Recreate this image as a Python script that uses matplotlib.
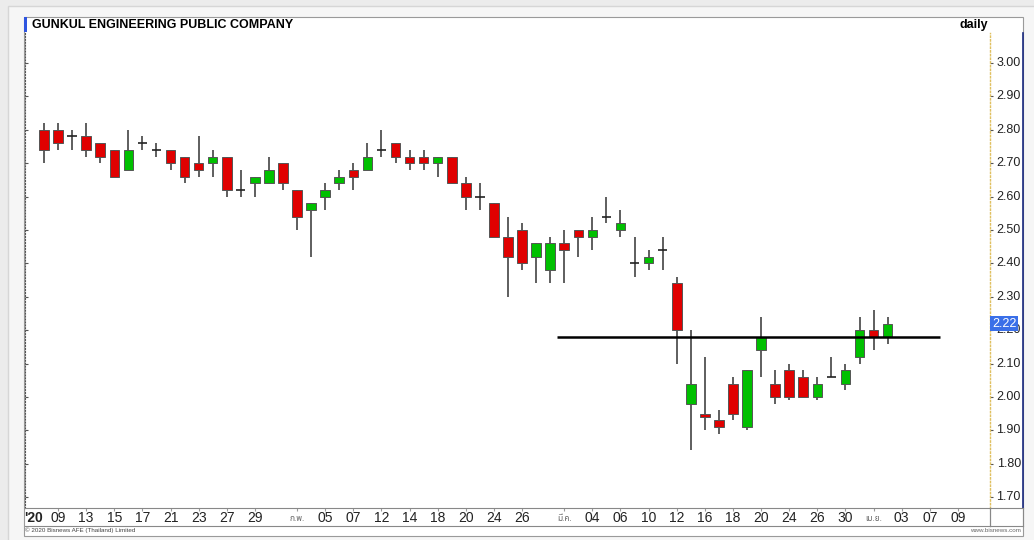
import matplotlib
matplotlib.use("Agg")
import matplotlib.pyplot as plt
from matplotlib.patches import Rectangle
import matplotlib.transforms as mtransforms

W, H = 1034, 540

# OHLC, one row per trading day (8 Jan 2020 .. 2 Apr 2020)
opens = [2.80, 2.80, 2.78, 2.78, 2.76, 2.74, 2.68, 2.76, 2.74, 2.74,
         2.72, 2.70, 2.70, 2.72, 2.62, 2.64, 2.64, 2.70, 2.62, 2.56,
         2.60, 2.64, 2.68, 2.68, 2.74, 2.76, 2.72, 2.72, 2.70, 2.72,
         2.64, 2.60, 2.58, 2.48, 2.50, 2.42, 2.38, 2.46, 2.50, 2.48,
         2.54, 2.50, 2.40, 2.40, 2.44, 2.34, 1.98, 1.95, 1.93, 2.04,
         1.91, 2.14, 2.04, 2.08, 2.06, 2.00, 2.06, 2.04, 2.12, 2.20,
         2.18]
highs = [2.82, 2.82, 2.80, 2.82, 2.76, 2.74, 2.80, 2.78, 2.76, 2.74,
         2.72, 2.78, 2.74, 2.72, 2.68, 2.66, 2.72, 2.70, 2.62, 2.58,
         2.64, 2.68, 2.70, 2.76, 2.80, 2.76, 2.74, 2.74, 2.72, 2.72,
         2.66, 2.64, 2.58, 2.54, 2.52, 2.46, 2.48, 2.50, 2.50, 2.54,
         2.60, 2.56, 2.48, 2.44, 2.48, 2.36, 2.20, 2.12, 1.96, 2.06,
         2.08, 2.24, 2.08, 2.10, 2.08, 2.06, 2.12, 2.10, 2.24, 2.26,
         2.24]
lows = [2.70, 2.74, 2.74, 2.72, 2.70, 2.66, 2.68, 2.74, 2.72, 2.68,
        2.64, 2.66, 2.66, 2.60, 2.60, 2.60, 2.64, 2.62, 2.50, 2.42,
        2.56, 2.62, 2.62, 2.68, 2.72, 2.70, 2.68, 2.68, 2.66, 2.64,
        2.56, 2.56, 2.48, 2.30, 2.38, 2.34, 2.34, 2.34, 2.42, 2.44,
        2.52, 2.48, 2.36, 2.38, 2.38, 2.10, 1.84, 1.90, 1.89, 1.93,
        1.90, 2.06, 1.98, 1.99, 2.00, 1.99, 2.06, 2.02, 2.10, 2.14,
        2.16]
closes = [2.74, 2.76, 2.78, 2.74, 2.72, 2.66, 2.74, 2.76, 2.74, 2.70,
          2.66, 2.68, 2.72, 2.62, 2.62, 2.66, 2.68, 2.64, 2.54, 2.58,
          2.62, 2.66, 2.66, 2.72, 2.74, 2.72, 2.70, 2.70, 2.72, 2.64,
          2.60, 2.60, 2.48, 2.42, 2.40, 2.46, 2.46, 2.44, 2.48, 2.50,
          2.54, 2.52, 2.40, 2.42, 2.44, 2.20, 2.04, 1.94, 1.91, 1.95,
          2.08, 2.18, 2.00, 2.00, 2.00, 2.04, 2.06, 2.08, 2.20, 2.18,
          2.22]

# date axis labels (trading-day index, text)
date_pos = [1, 3, 5, 7, 9, 11, 13, 15, 18, 20, 22, 24, 26, 28, 30, 32, 34,
            37, 39, 41, 43, 45, 47, 49, 51, 53, 55, 57, 59, 61, 63, 65]
date_txt = ['09', '13', '15', '17', '21', '23', '27', '29', 'ก.พ.', '05', '07',
            '12', '14', '18', '20', '24', '26', 'มี.ค.', '04', '06', '10', '12',
            '16', '18', '20', '24', '26', '30', 'เม.ย.', '03', '07', '09']
price_ticks = [1.70, 1.80, 1.90, 2.00, 2.10, 2.20, 2.30, 2.40, 2.50, 2.60,
               2.70, 2.80, 2.90, 3.00]
level = 2.18
level_span = (36.5, 63.7)
last_price = 2.22

FONT = ['Liberation Sans', 'DejaVu Sans', 'Noto Sans']
plt.rcParams['font.family'] = FONT


def box(x0, y0, x1, y1):
    # pixel box (top-left origin) -> figure fraction [l, b, w, h]
    return [x0 / W, 1 - y1 / H, (x1 - x0) / W, (y1 - y0) / H]


fig = plt.figure(figsize=(W / 100, H / 100), dpi=100, facecolor='#ececec')

# background panels (behind the axes)
l, b, w, h = box(8, 6, W + 2, H + 2)
fig.patches.append(Rectangle((l, b), w, h, transform=fig.transFigure,
                             facecolor='#f6f6f6', edgecolor='#d6d6d6', lw=1,
                             zorder=-10))
l, b, w, h = box(24, 17, 1023, 536)
fig.patches.append(Rectangle((l, b), w, h, transform=fig.transFigure,
                             facecolor='white', edgecolor='#9a9a9a', lw=0.8,
                             zorder=-9))
l, b, w, h = box(24, 17, 26.5, 32)
fig.patches.append(Rectangle((l, b), w, h, transform=fig.transFigure,
                             facecolor='#2f55e0', edgecolor='none', zorder=-8))

fig.text(32 / W, 1 - 25 / H, 'GUNKUL ENGINEERING PUBLIC COMPANY',
         fontsize=9, fontweight='bold', va='center', ha='left')
fig.text(988 / W, 1 - 25 / H, 'daily', fontsize=9, fontweight='bold',
         va='center', ha='right')
fig.text(25 / W, 1 - 530.5 / H, '\u00a9 2020 Bisnews AFE (Thailand) Limited',
         fontsize=4.5, color='#444444', va='center', ha='left')
fig.text(1021 / W, 1 - 530.5 / H, 'www.bisnews.com', fontsize=4.5,
         color='#666666', va='center', ha='right')

# main price axes
ax = fig.add_axes(box(25, 33, 990, 508))
ax.set_xlim(-1.35, 67.28)
ax.set_ylim(1.6677, 3.0898)
ax.patch.set_alpha(0)
for s in ['top', 'right', 'bottom']:
    ax.spines[s].set_visible(False)
ax.spines['left'].set_linestyle(':')
ax.spines['left'].set_color('#555555')
ax.spines['left'].set_linewidth(0.8)
ax.set_yticks(price_ticks)
ax.tick_params(axis='y', direction='in', length=2, color='#555555',
               labelleft=False)

red, green = '#e00000', '#00c000'
for i in range(len(opens)):
    o, hi, lo, c = opens[i], highs[i], lows[i], closes[i]
    ax.vlines(i, lo, hi, color='#333333', lw=1.1, zorder=2)
    if o == c:
        ax.hlines(o, i - 0.33, i + 0.33, color='#222222', lw=1.2, zorder=3)
    else:
        col = green if c > o else red
        ax.bar(i, abs(c - o), bottom=min(o, c), width=0.68, color=col,
               edgecolor='#555555', linewidth=0.7, zorder=3)

ax.hlines(level, level_span[0], level_span[1], color='black', lw=1.8, zorder=4)

# price scale column
ay = fig.add_axes(box(990, 33, 1022.5, 508), sharey=ax)
ay.patch.set_alpha(0)
ay.set_xlim(0, 1)
ay.set_xticks([])
ay.tick_params(axis='y', direction='in', length=2, color='#555555',
               labelleft=False)
for s in ['top', 'bottom']:
    ay.spines[s].set_visible(False)
ay.spines['left'].set_linestyle(':')
ay.spines['left'].set_color('#e0c060')
ay.spines['left'].set_linewidth(1.0)
ay.spines['right'].set_color('#1a2a80')
ay.spines['right'].set_linewidth(1.2)
trans = mtransforms.blended_transform_factory(ay.transAxes, ay.transData)
for v in price_ticks:
    ay.text(0.95, v, f'{v:.2f}', transform=trans, fontsize=9,
            ha='right', va='center', color='#222222')
ay.text(0.06, last_price, f'{last_price:.2f}', transform=trans, fontsize=9,
        ha='left', va='center', color='white', zorder=5,
        bbox=dict(boxstyle='square,pad=0.12', facecolor='#3a6fe8',
                  edgecolor='none'))

# date strip
ad = fig.add_axes(box(25, 508, 990, 526), sharex=ax)
ad.patch.set_alpha(0)
ad.set_yticks([])
ad.set_ylim(0, 1)
for s in ad.spines.values():
    s.set_color('#888888')
    s.set_linewidth(0.8)
ad.spines['left'].set_visible(False)
ad.set_xticks(date_pos)
ad.set_xticklabels([])
ad.tick_params(axis='x', direction='in', length=2, color='#999999',
               top=True, bottom=False)
# shared locator puts the same ticks on the main axes; hide them there
ax.tick_params(axis='x', bottom=False, top=False, labelbottom=False)
for p, t in zip(date_pos, date_txt):
    if t.isdigit():
        ad.text(p, 0.42, t, fontsize=10, ha='center', va='center',
                color='#222222')
    else:
        ad.text(p, 0.42, t, fontsize=6, ha='center', va='center',
                color='#666666', family=['Noto Sans Thai', 'Loma',
                                          'Garuda', 'DejaVu Sans',
                                          'Noto Sans'])
ad.text(-0.78, 0.42, "'20", fontsize=10, fontweight='bold', ha='center',
        va='center', color='#222222')

ae = fig.add_axes(box(990, 508, 1022.5, 526))
ae.patch.set_alpha(0)
ae.set_xticks([])
ae.set_yticks([])
for s in ae.spines.values():
    s.set_color('#888888')
    s.set_linewidth(0.8)

fig.savefig('out.png', dpi=100, facecolor=fig.get_facecolor())
